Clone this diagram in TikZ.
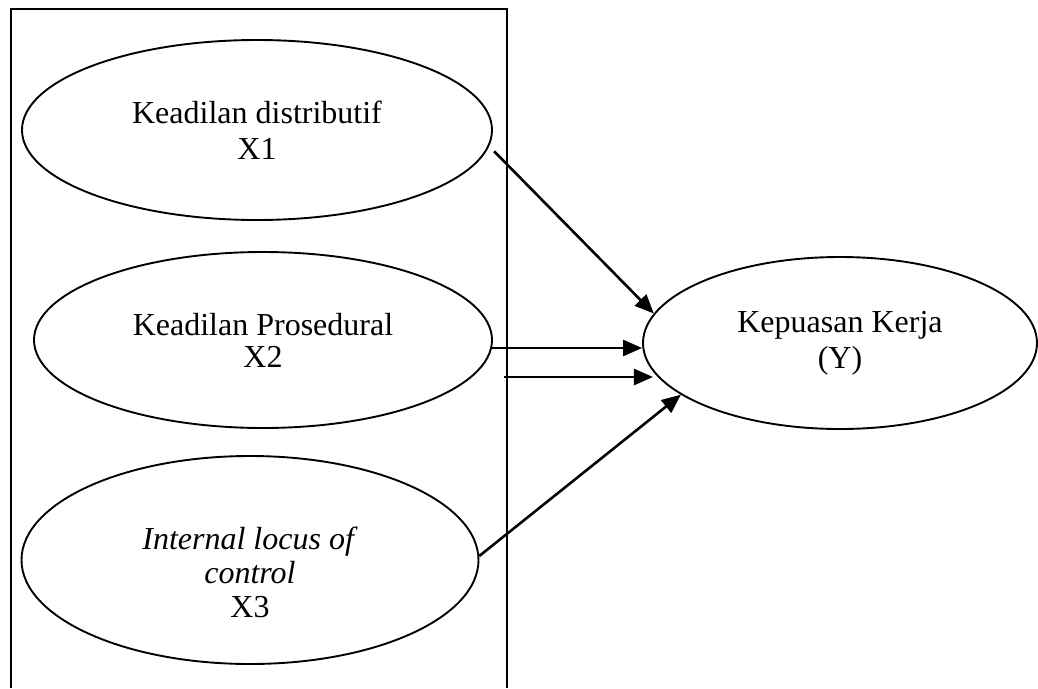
\documentclass[tikz,border=0pt]{standalone}
\usepackage{fontspec}
\setmainfont{Liberation Serif}
\usepackage{tikz}
\usetikzlibrary{shapes.geometric, arrows.meta, positioning, calc}

\begin{document}
\begin{tikzpicture}[
  x=1pt, y=-1pt,
  >={Triangle[length=19pt,width=16pt]},
  var/.style={draw, ellipse, line width=1.9pt, inner sep=0pt, align=center,
    font=\fontsize{32}{36}\selectfont},
  arr/.style={->, line width=2.6pt}
  ]
  \useasboundingbox (0,0) rectangle (1038,688);
  % frame round the independent variables
  \draw[line width=1.8pt] (11,688) |- (507,9) -- (507,688);
  % variables
  \node[var, minimum width=470pt, minimum height=180pt] (x1) at (257,130) {Keadilan distributif\\X1};
  \node[var, minimum width=458pt, minimum height=176pt] (x2) at (263,340) {Keadilan Prosedural\\[-4pt]X2};
  \node[var, minimum width=457pt, minimum height=208pt,
    label={[font=\fontsize{32}{34}\selectfont, align=center, yshift=-12pt]center:{\textit{Internal locus of}\\\textit{control}\\X3}}] (x3) at (250,560) {};
  \node[var, minimum width=394pt, minimum height=172pt] (y) at (840,343) {Kepuasan Kerja\\(Y)};
  \coordinate (s3) at (504,377);
  % paths
  \draw[arr, shorten <=7pt] (x1.-4) -- (y.171);
  \draw[arr] (x2.-2) -- (x2.-2 -| y.west);
  \draw[arr, shorten >=6pt] (s3) -- (s3 -| y.191);
  \draw[arr] (x3.1) -- (y.198);
\end{tikzpicture}
\end{document}
